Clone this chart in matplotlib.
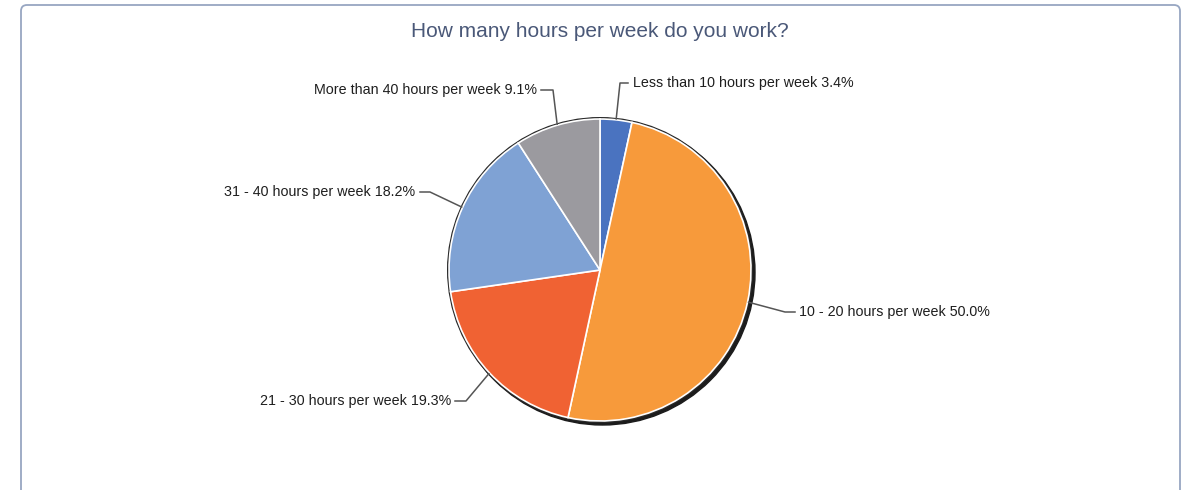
import numpy as np
import matplotlib
matplotlib.use('Agg')
import matplotlib.pyplot as plt
from matplotlib.patches import Circle, FancyBboxPatch

# Data
categories = ['Less than 10 hours per week', '10 - 20 hours per week',
              '21 - 30 hours per week', '31 - 40 hours per week',
              'More than 40 hours per week']
shares = [3.4, 50.0, 19.3, 18.2, 9.1]
colors = ['#4a73c0', '#f79a3b', '#f06233', '#7fa2d4', '#9b9a9f']

W, H = 1183, 490
plt.rcParams['font.family'] = ['Liberation Sans', 'DejaVu Sans']

fig = plt.figure(figsize=(W / 100, H / 100), dpi=100)
ax = fig.add_axes([0, 0, 1, 1])
ax.set_xlim(0, W)
ax.set_ylim(0, H)
ax.set_aspect('equal')
ax.axis('off')

# outer frame
frame = FancyBboxPatch((21, -20), 1159, H - 5 + 20, boxstyle='round,pad=0,rounding_size=6',
                       facecolor='white', edgecolor='#97a6c2', linewidth=1.3, zorder=0)
ax.add_patch(frame)

ax.text(600, H - 32, 'How many hours per week do you work?', ha='center', va='center',
        fontsize=15, color='#4a5878')

cx, cy, r = 600, H - 270, 151

# drop shadow + thin dark rim
ax.add_patch(Circle((cx + 2.5, cy - 2.5), r + 1.5, color='#1c1c1c', zorder=1))
ax.add_patch(Circle((cx, cy), r + 1.3, color='#2a2a2a', zorder=1))

wedges, _ = ax.pie(shares, colors=colors, startangle=90, counterclock=False,
                   center=(cx, cy), radius=r, frame=True,
                   wedgeprops=dict(edgecolor='white', linewidth=1.2))
for w in wedges:
    w.set_zorder(2)
ax.set_xlim(0, W)
ax.set_ylim(0, H)
ax.axis('off')

# label placement (pixel coords, y from top): elbow point, line end, text x, alignment
layout = [
    ((620, 83), (628, 83), 633, 'left'),
    ((785, 312), (795, 312), 799, 'left'),
    ((466, 401), (455, 401), 451, 'right'),
    ((430, 192), (420, 192), 415, 'right'),
    ((553, 90), (541, 90), 537, 'right'),
]

start = 90.0
for cat, val, (elbow, end, tx, ha) in zip(categories, shares, layout):
    span = 360.0 * val / sum(shares)
    mid = np.deg2rad(start - span / 2)
    ex, ey = cx + (r + 1) * np.cos(mid), cy + (r + 1) * np.sin(mid)
    start -= span
    xs = [ex, elbow[0], end[0]]
    ys = [ey, H - elbow[1], H - end[1]]
    ax.plot(xs, ys, color='#555555', linewidth=1.1, zorder=3)
    ax.text(tx, H - end[1], f'{cat} {val:.1f}%', ha=ha, va='center',
            fontsize=10.3, color='#1e1e1e')

plt.savefig('out.png', dpi=100)
plt.close()
